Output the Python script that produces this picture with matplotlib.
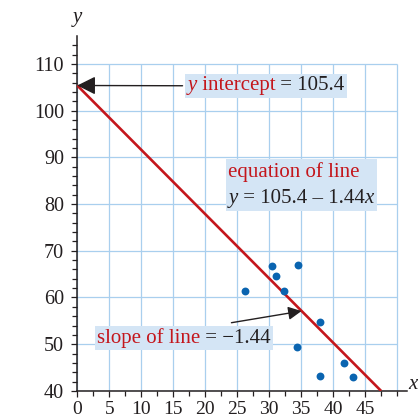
"""
Scatter of ten points with the fitted line y = 105.4 - 1.44x and the
intercept/slope call-outs, textbook style (serif text, blue graph-paper grid).
"""
import matplotlib
matplotlib.use("Agg")   # headless
import matplotlib.pyplot as plt
from matplotlib.offsetbox import AnnotationBbox, HPacker, TextArea, VPacker

# data
x_pts = [26.2, 30.4, 31.1, 32.3, 34.5, 37.9, 34.4, 41.7, 38.0, 43.1]
y_pts = [61.4, 66.8, 64.6, 61.3, 67.0, 54.7, 49.4, 46.0, 43.1, 43.0]
line_x = [0, 47.5]
line_y = [105.4, 40]
x_ticks = [0, 5, 10, 15, 20, 25, 30, 35, 40, 45]
y_ticks = [40, 50, 60, 70, 80, 90, 100, 110]
grid_x = [0, 5, 10, 15, 20, 25, 30, 35, 40, 45, 50]
grid_y = [40, 50, 60, 70, 80, 90, 100, 110]

RED = "#c4161c"
BLUE_DOT = "#0a64b0"
GRID = "#a9cfee"
BOX = "#d4e5f5"
INK = "#231f20"
SERIF = "Liberation Serif"
FS = 15


def _piece(text, color=INK, italic=False):
    return TextArea(text, textprops=dict(color=color, fontsize=FS, family=SERIF,
                                         style="italic" if italic else "normal"))


def _row(*pieces):
    return HPacker(children=list(pieces), align="baseline", pad=0, sep=0)


def main():
    fig = plt.figure(figsize=(4.18, 4.20), dpi=100)
    ax = fig.add_axes([0.1849, 0.0693, 0.788, 0.845])
    ax.set_xlim(0, 51.5)
    ax.set_ylim(40, 116)

    # graph-paper grid, only over 0..50 x 40..110
    ax.vlines(grid_x, grid_y[0], grid_y[-1], color=GRID, lw=0.9, zorder=0)
    ax.hlines(grid_y, grid_x[0], grid_x[-1], color=GRID, lw=0.9, zorder=0)

    ax.plot(line_x, line_y, color=RED, lw=1.9, zorder=3, solid_capstyle="butt")
    ax.scatter(x_pts, y_pts, s=32, color=BLUE_DOT, zorder=4, linewidths=0)

    for side in ("top", "right"):
        ax.spines[side].set_visible(False)
    for side in ("left", "bottom"):
        ax.spines[side].set_linewidth(1.1)
        ax.spines[side].set_color(INK)

    ax.set_xticks(x_ticks)
    ax.set_xticks([v + 2.5 for v in x_ticks] + [50], minor=True)
    ax.set_yticks(y_ticks)
    ax.set_yticks([v for v in range(42, 116, 2) if v % 10], minor=True)
    ax.tick_params(which="both", direction="out", color=INK, width=0.9,
                   labelcolor=INK)
    ax.tick_params(which="major", length=4.5)
    ax.tick_params(which="minor", length=3.6)
    ax.tick_params(axis="x", pad=2.5, labelsize=14)
    ax.tick_params(axis="y", pad=5, labelsize=14.5)
    for lab in ax.get_xticklabels() + ax.get_yticklabels():
        lab.set_family(SERIF)

    ax.text(0, 119.9, "y", fontsize=FS, family=SERIF, style="italic", color=INK,
            ha="center", va="center", clip_on=False)
    ax.text(51.8, 41.3, "x", fontsize=FS, family=SERIF, style="italic", color=INK,
            ha="left", va="center", clip_on=False)

    arrow = dict(arrowstyle="-|>,head_length=0.4,head_width=0.2",
                 mutation_scale=20, color=INK, lw=1.0, shrinkA=2, shrinkB=0)

    # y intercept call-out, arrow to the axis
    intercept = _row(_piece("y", RED, italic=True), _piece(" intercept", RED),
                     _piece(" = 105.4"))
    ax.add_artist(AnnotationBbox(
        intercept, xy=(0, 105.4), xybox=(29.5, 105.3), xycoords="data",
        boxcoords="data", pad=0.15, frameon=True, zorder=5,
        bboxprops=dict(boxstyle="square,pad=0.15", fc=BOX, ec="none"),
        arrowprops=arrow))

    # equation of the line
    equation = VPacker(children=[
        _row(_piece("equation of line", RED)),
        _row(_piece("y", italic=True), _piece(" = 105.4 \u2013 1.44"),
             _piece("x", italic=True)),
    ], align="left", pad=0, sep=5)
    ax.add_artist(AnnotationBbox(
        equation, xy=(35.0, 84.1), xycoords="data", pad=0.2, frameon=True,
        zorder=5, bboxprops=dict(boxstyle="square,pad=0.2", fc=BOX, ec="none")))

    # slope call-out with its own arrow onto the line
    slope = _row(_piece("slope of line", RED), _piece(" = \u22121.44"))
    ax.add_artist(AnnotationBbox(
        slope, xy=(16.7, 51.3), xycoords="data", pad=0.15, frameon=True,
        zorder=5, bboxprops=dict(boxstyle="square,pad=0.15", fc=BOX, ec="none")))
    ax.annotate("", xy=(35.06, 57.1), xytext=(24.1, 54.6),
                arrowprops=dict(arrow, shrinkA=0), zorder=6)

    fig.savefig("out.png", dpi=100)
    plt.close(fig)


if __name__ == "__main__":
    main()
